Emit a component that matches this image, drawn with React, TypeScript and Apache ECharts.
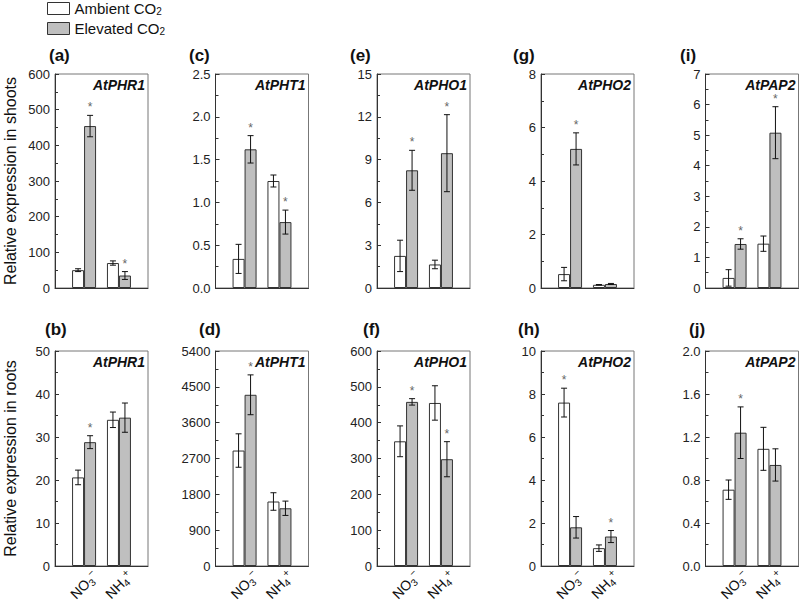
import { useEffect, useRef } from 'react';
import * as echarts from 'echarts';

// ---------- data ----------
const genes = ['AtPHR1', 'AtPHT1', 'AtPHO1', 'AtPHO2', 'AtPAP2'];
const nitrogenSources = ['NO3-', 'NH4+'];
const treatments = ['Ambient CO2', 'Elevated CO2'];
const shootLetters = ['(a)', '(c)', '(e)', '(g)', '(i)'];
const rootLetters = ['(b)', '(d)', '(f)', '(h)', '(j)'];
const rowTitles = ['Relative expression in shoots', 'Relative expression in roots'];

// each inner pair: [NO3-, NH4+]
const shootAmbientMean = [[50, 70], [0.34, 1.25], [2.25, 1.65], [0.52, 0.12], [0.33, 1.45]];
const shootAmbientErr = [[4, 6], [0.17, 0.07], [1.1, 0.3], [0.25, 0.01], [0.27, 0.25]];
const shootElevatedMean = [[454, 35], [1.62, 0.77], [8.25, 9.45], [5.2, 0.15], [1.44, 5.08]];
const shootElevatedErr = [[30, 11], [0.16, 0.14], [1.4, 2.7], [0.6, 0.02], [0.17, 0.85]];
const shootAmbientSig = [[0, 0], [0, 0], [0, 0], [0, 0], [0, 0]];
const shootElevatedSig = [[1, 1], [1, 1], [1, 1], [1, 0], [1, 1]];

const rootAmbientMean = [[20.6, 34], [2900, 1620], [348, 455], [7.6, 0.83], [0.71, 1.09]];
const rootAmbientErr = [[1.7, 1.8], [420, 220], [43, 48], [0.67, 0.15], [0.09, 0.2]];
const rootElevatedMean = [[28.8, 34.5], [4300, 1450], [458, 298], [1.8, 1.37], [1.24, 0.94]];
const rootElevatedErr = [[1.5, 3.4], [500, 180], [9, 49], [0.5, 0.28], [0.24, 0.15]];
const rootAmbientSig = [[0, 0], [0, 0], [0, 0], [1, 0], [0, 0]];
const rootElevatedSig = [[1, 0], [1, 0], [1, 1], [0, 1], [1, 0]];

const shootYMax = [600, 2.5, 15, 8, 7];
const shootYStep = [100, 0.5, 3, 2, 1];
const rootYMax = [50, 5400, 600, 10, 2];
const rootYStep = [10, 900, 100, 2, 0.4];

// ---------- layout / style ----------
const FONT = '"Liberation Sans", Arial, Helvetica, sans-serif';
const PANEL_LEFT = [55, 215.5, 377, 541, 705.5];
const PANEL_W = 93;
const ROW_TOP = [74, 351];
const ROW_H = [214, 215];
const LETTER_X = [[49, 189, 350, 513, 680], [45, 199, 363, 518, 689]];
const LETTER_Y = [55, 329];
const SLOTS = 8;
const GROUP_SLOT = [2, 5];
const BAR_W = 12;
const FILLS = ['#ffffff', '#bfbfbf'];
const EDGE = '#333333';

const slotLabels = Array.from({ length: SLOTS }, (_, i) => {
  const g = GROUP_SLOT.indexOf(i);
  return g >= 0 ? nitrogenSources[g] : 'slot' + i;
});

const xRich = {
  t: { fontSize: 14, color: '#111', fontFamily: FONT, lineHeight: 18 },
  sub: { fontSize: 10, color: '#111', fontFamily: FONT, verticalAlign: 'bottom', lineHeight: 10 },
  sup: { fontSize: 10, color: '#111', fontFamily: FONT, verticalAlign: 'top', lineHeight: 9 },
};
const xFormatter = (v: string) =>
  v === 'NO3-' ? '{t|NO}{sub|3}{sup|−}' : v === 'NH4+' ? '{t|NH}{sub|4}{sup|+}' : '';

function buildOption() {
  const grid: any[] = [];
  const xAxis: any[] = [];
  const yAxis: any[] = [];
  const series: any[] = [];
  const graphic: any[] = [];

  const rows = [
    { mean: [shootAmbientMean, shootElevatedMean], err: [shootAmbientErr, shootElevatedErr], sig: [shootAmbientSig, shootElevatedSig], ymax: shootYMax, ystep: shootYStep, letters: shootLetters },
    { mean: [rootAmbientMean, rootElevatedMean], err: [rootAmbientErr, rootElevatedErr], sig: [rootAmbientSig, rootElevatedSig], ymax: rootYMax, ystep: rootYStep, letters: rootLetters },
  ];

  rows.forEach((row, r) => {
    genes.forEach((gene, c) => {
      const idx = grid.length;
      grid.push({
        left: PANEL_LEFT[c], top: ROW_TOP[r], width: PANEL_W, height: ROW_H[r],
        show: true, borderColor: '#777', borderWidth: 1, backgroundColor: 'transparent',
      });
      const labelOpt: any = r === 1
        ? { show: true, interval: 0, rotate: 45, align: 'center', verticalAlign: 'middle', margin: 19, formatter: xFormatter, rich: xRich }
        : { show: false };
      xAxis.push({
        type: 'category', gridIndex: idx, data: slotLabels,
        axisLine: { show: true, lineStyle: { color: EDGE, width: 1 } },
        axisTick: { show: false },
        splitLine: { show: false },
        axisLabel: labelOpt,
      });
      const step = row.ystep[c];
      yAxis.push({
        type: 'value', gridIndex: idx, min: 0, max: row.ymax[c], interval: step,
        axisLine: { show: true, lineStyle: { color: EDGE, width: 1 } },
        axisTick: { show: true, inside: true, length: 4, lineStyle: { color: EDGE } },
        minorTick: { show: true, splitNumber: 2, length: 3, lineStyle: { color: EDGE } },
        splitLine: { show: false },
        axisLabel: {
          margin: 5, fontSize: 13, color: '#222', fontFamily: FONT,
          formatter: (v: number) => (step < 1 ? v.toFixed(1) : String(Math.round(v))),
        },
      });

      const errData: any[] = [];
      treatments.forEach((name, t) => {
        series.push({
          type: 'bar', name, xAxisIndex: idx, yAxisIndex: idx,
          barWidth: BAR_W, barGap: '0%',
          itemStyle: { color: FILLS[t], borderColor: EDGE, borderWidth: 1 },
          emphasis: { disabled: true },
          data: slotLabels.map((_, i) => {
            const g = GROUP_SLOT.indexOf(i);
            return g >= 0 ? row.mean[t][c][g] : null;
          }),
        });
        nitrogenSources.forEach((_, g) => {
          errData.push([GROUP_SLOT[g], row.mean[t][c][g], row.err[t][c][g], row.sig[t][c][g], t === 0 ? -1 : 1]);
        });
      });
      series.push({
        type: 'custom', xAxisIndex: idx, yAxisIndex: idx, z: 5, silent: true,
        encode: { x: 0, y: 1 },
        data: errData,
        renderItem: (params: any, api: any) => {
          const slot = api.value(0);
          const m = api.value(1);
          const e = api.value(2);
          const sig = api.value(3);
          const side = api.value(4);
          const hi = api.coord([slot, m + e]);
          const lo = api.coord([slot, m - e]);
          const x = hi[0] + (side * BAR_W) / 2;
          const st = { stroke: '#111', lineWidth: 1 };
          const children: any[] = [
            { type: 'line', shape: { x1: x, y1: hi[1], x2: x, y2: lo[1] }, style: st },
            { type: 'line', shape: { x1: x - 3, y1: hi[1], x2: x + 3, y2: hi[1] }, style: st },
            { type: 'line', shape: { x1: x - 3, y1: lo[1], x2: x + 3, y2: lo[1] }, style: st },
          ];
          if (sig) {
            children.push({
              type: 'text',
              style: { text: '*', x, y: hi[1] - 2, fill: '#666', fontSize: 12, fontFamily: FONT, align: 'center', verticalAlign: 'bottom' },
            });
          }
          return { type: 'group', children };
        },
      });

      graphic.push({
        type: 'text', x: PANEL_LEFT[c] + PANEL_W - 3, y: ROW_TOP[r] + 11,
        style: { text: gene, fontSize: 14, fontWeight: 'bold', fontStyle: 'italic', fill: '#111', fontFamily: FONT, align: 'right', verticalAlign: 'middle' },
      });
      graphic.push({
        type: 'text', x: LETTER_X[r][c], y: LETTER_Y[r],
        style: { text: row.letters[c], fontSize: 17, fontWeight: 'bold', fill: '#111', fontFamily: FONT, align: 'left', verticalAlign: 'middle' },
      });
    });
  });

  rowTitles.forEach((text, r) => {
    graphic.push({
      type: 'text', x: 10, y: ROW_TOP[r] + ROW_H[r] / 2, rotation: Math.PI / 2,
      style: { text, fontSize: 16, fill: '#111', fontFamily: FONT, align: 'center', verticalAlign: 'middle' },
    });
  });

  return {
    animation: false,
    backgroundColor: '#ffffff',
    legend: {
      data: treatments.map((name, t) => ({ name, itemStyle: { color: FILLS[t], borderColor: EDGE, borderWidth: 1 } })),
      orient: 'vertical', left: 47, top: 1, itemWidth: 22, itemHeight: 12, itemGap: 5, icon: 'rect',
      selectedMode: false, padding: 0,
      formatter: (n: string) => (n === treatments[0] ? '{t|Ambient CO}{s|2}' : '{t|Elevated CO}{s|2}'),
      textStyle: {
        rich: {
          t: { fontSize: 15, color: '#111', fontFamily: FONT, lineHeight: 15 },
          s: { fontSize: 10, color: '#111', fontFamily: FONT, verticalAlign: 'bottom', lineHeight: 8 },
        },
      },
    },
    grid, xAxis, yAxis, series, graphic,
  };
}

export default function App() {
  const ref = useRef<HTMLDivElement>(null);
  useEffect(() => {
    if (!ref.current) return;
    const chart = echarts.init(ref.current, undefined, { renderer: 'svg' });
    chart.setOption(buildOption() as any);
    return () => chart.dispose();
  }, []);
  return <div ref={ref} style={{ position: 'absolute', left: 0, top: 0, width: 800, height: 608 }} />;
}
